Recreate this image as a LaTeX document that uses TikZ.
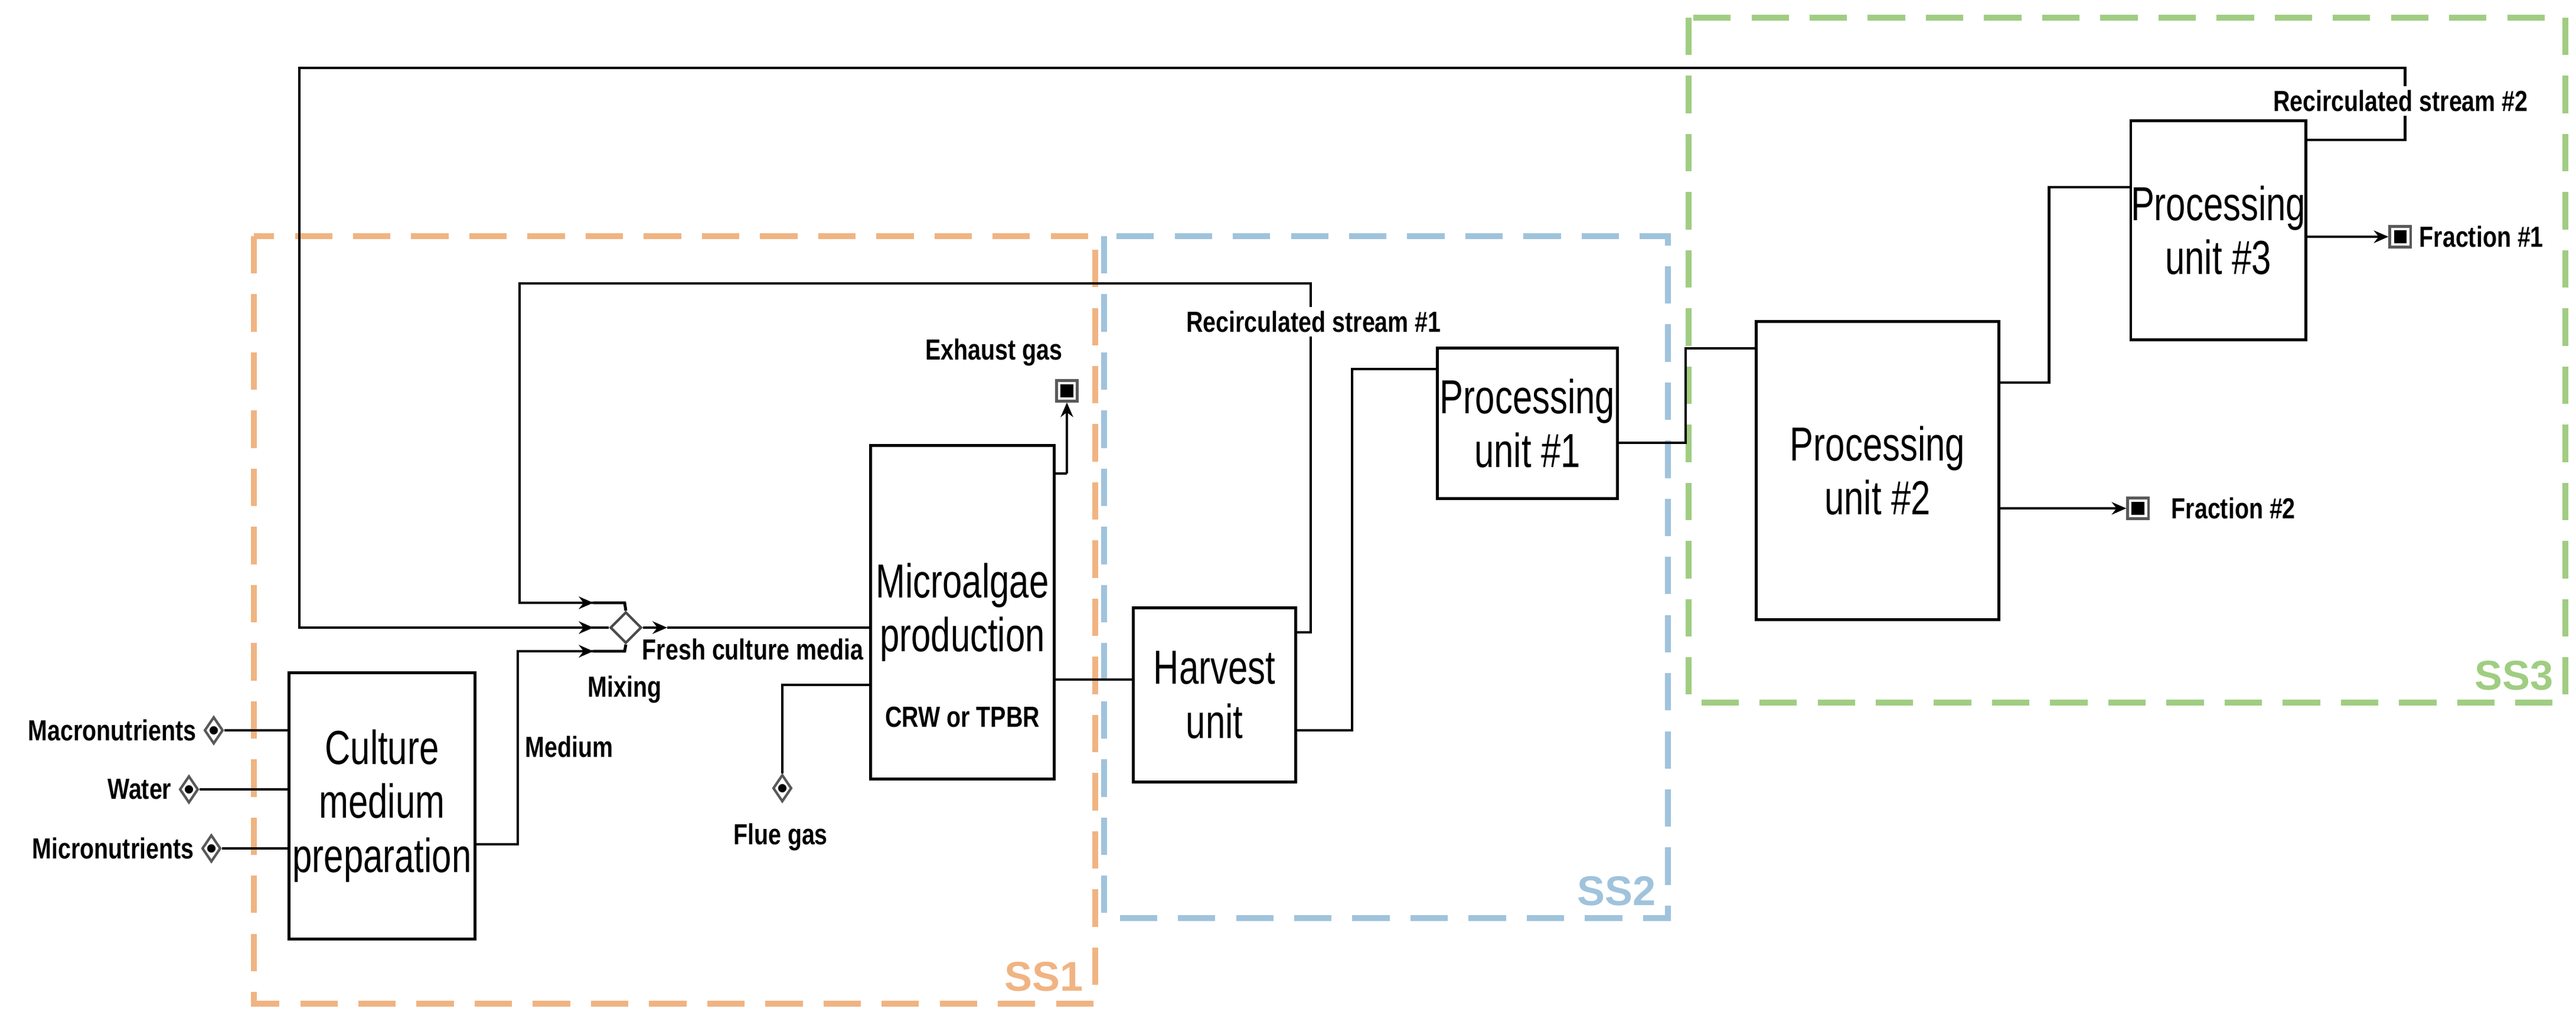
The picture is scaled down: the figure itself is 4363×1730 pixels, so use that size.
\documentclass[tikz,border=0pt]{standalone}
\usepackage{fontspec}
\setmainfont{Liberation Sans}
\newfontfamily\nar{Liberation Sans}[FakeStretch=0.8]
\newfontfamily\narb{Liberation Sans}[FakeStretch=0.74]
\usetikzlibrary{shapes.geometric,arrows.meta}
\begin{document}
\begin{tikzpicture}[x=0.01cm,y=-0.01cm,
  box/.style={draw,line width=1.4pt,inner sep=0,font=\narb\fontsize{23}{26}\selectfont,align=center},
  lbl/.style={font=\nar\bfseries\fontsize{14}{16}\selectfont,inner sep=2pt},
  ln/.style={line width=1.4pt},
  arr/.style={ln,-{Stealth[length=7pt,width=6pt]}},
  ss/.style={dashed,line width=2.6pt,dash pattern=on 18pt off 10pt},
  sst/.style={font=\fontsize{20}{22}\selectfont\bfseries,anchor=south east,inner sep=0},
  src/.style={diamond,draw=gray!70!black,line width=1.2pt,inner sep=0,minimum width=9pt,minimum height=13pt,
    path picture={\fill (path picture bounding box.center) circle (2pt);}},
  snk/.style={rectangle,draw=gray!70!black,line width=1.2pt,minimum size=10pt,inner sep=0,
    path picture={\fill ([shift={(-3pt,-3pt)}]path picture bounding box.center) rectangle ([shift={(3pt,3pt)}]path picture bounding box.center);}}]
\useasboundingbox (0,0) rectangle (4363,1730);
\definecolor{cO}{RGB}{240,180,130}\definecolor{cB}{RGB}{160,195,220}\definecolor{cG}{RGB}{160,205,130}
% subsystems
\draw[ss,cO] (430,400) rectangle (1855,1700);
\draw[ss,cB] (1870,400) rectangle (2825,1555);
\draw[ss,cG] (2860,30) rectangle (4345,1190);
\node[sst,text=cO] (s1) at (1835,1680) {SS1};
\node[sst,text=cB] (s2) at (2805,1535) {SS2};
\node[sst,text=cG] (s3) at (4325,1170) {SS3};
% boxes
\node[box,minimum width=3.15cm,minimum height=4.5cm] (cmp) at (647,1365) {Culture\\medium\\preparation};
\node[box,minimum width=3.1cm,minimum height=5.65cm] (mp) at (1630,1037) {Microalgae\\production};
\node[lbl] (crw) at (1630,1215) {CRW or TPBR};
\node[box,minimum width=2.75cm,minimum height=2.95cm] (hu) at (2057,1177) {Harvest\\unit};
\node[box,minimum width=3.05cm,minimum height=2.55cm] (p1) at (2587,717) {Processing\\unit \#1};
\node[box,minimum width=4.1cm,minimum height=5.05cm] (p2) at (3180,797) {Processing\\unit \#2};
\node[box,minimum width=2.95cm,minimum height=3.7cm] (p3) at (3757,390) {Processing\\unit \#3};
% inputs
\node[src] (mac) at (362,1237) {}; \node[lbl,anchor=east] (macl) at (340,1237) {Macronutrients};
\node[src] (wat) at (320,1337) {}; \node[lbl,anchor=east] (watl) at (298,1337) {Water};
\node[src] (mic) at (358,1437) {}; \node[lbl,anchor=east] (micl) at (336,1437) {Micronutrients};
\draw[ln] (mac) -- (mac -| cmp.west);
\draw[ln] (wat) -- (wat -| cmp.west);
\draw[ln] (mic) -- (mic -| cmp.west);
% mixing
\node[diamond,draw=gray!60!black,line width=1.2pt,minimum width=0.53cm,minimum height=0.53cm,inner sep=0] (mx) at (1060,1063) {};
\node[lbl] (mxl) at (1058,1168) {Mixing};
\coordinate (a1) at (1005,1021); \coordinate (a2) at (1005,1063); \coordinate (a3) at (1005,1103);
% medium
\draw[ln] (cmp.east |- 0,1430) -- (877,1430) -- (877,1103) -- (a3);
\draw[arr] (960,1103) -- (a3);
\draw[ln] (a3) -- (1058,1103) -- (mx.south);
\node[lbl,anchor=west] (medl) at (882,1265) {Medium};
% recirc 1
\draw[ln] (hu.east |- 0,1071) -- (2220,1071) -- (2220,480) -- (880,480) -- (880,1021) -- (a1);
\draw[arr] (960,1021) -- (a1);
\draw[ln] (a1) -- (1058,1021) -- (mx.north);
\node[lbl,fill=white] (r1) at (2225,545) {Recirculated stream \#1};
% recirc 2
\draw[ln] (p3.east |- 0,237) -- (4073,237) -- (4073,115) -- (507,115) -- (507,1063) -- (a2);
\draw[arr] (960,1063) -- (a2);
\draw[ln] (a2) -- (mx.west);
\node[lbl,fill=white] (r2) at (4066,171) {Recirculated stream \#2};
% fresh media
\coordinate (fm) at (1130,1063);
\draw[arr] (mx.east) -- (fm);
\draw[ln] (fm) -- (mx -| mp.west);
\node[lbl] (fml) at (1275,1100) {Fresh culture media};
% flue gas
\node[src] (fg) at (1325,1335) {};
\node[lbl] (fgl) at (1322,1418) {Flue gas};
\draw[ln] (fg) -- (1325,1160) -- (mp.west |- 0,1160);
% exhaust
\node[snk] (ex) at (1807,662) {};
\node[lbl] (exl) at (1683,597) {Exhaust gas};
\draw[ln] (mp.east |- 0,802) -- (1807,802);
\draw[arr] (1807,802) -- (ex.south);
% main flow
\draw[ln] (mp.east |- 0,1151) -- (hu.west |- 0,1151);
\draw[ln] (hu.east |- 0,1237) -- (2290,1237) -- (2290,625) -- (p1.west |- 0,625);
\draw[ln] (p1.east |- 0,750) -- (2855,750) -- (2855,590) -- (p2.west |- 0,590);
\draw[ln] (p2.east |- 0,648) -- (3470,648) -- (3470,317) -- (p3.west |- 0,317);
% fractions
\node[snk] (f1) at (4065,401) {}; \node[lbl,anchor=west] (f1l) at (4090,401) {Fraction \#1};
\node[snk] (f2) at (3621,861) {}; \node[lbl,anchor=west] (f2l) at (3670,861) {Fraction \#2};
\draw[arr] (p3.east |- f1) -- (f1);
\draw[arr] (p2.east |- f2) -- (f2);
\end{tikzpicture}
\end{document}
